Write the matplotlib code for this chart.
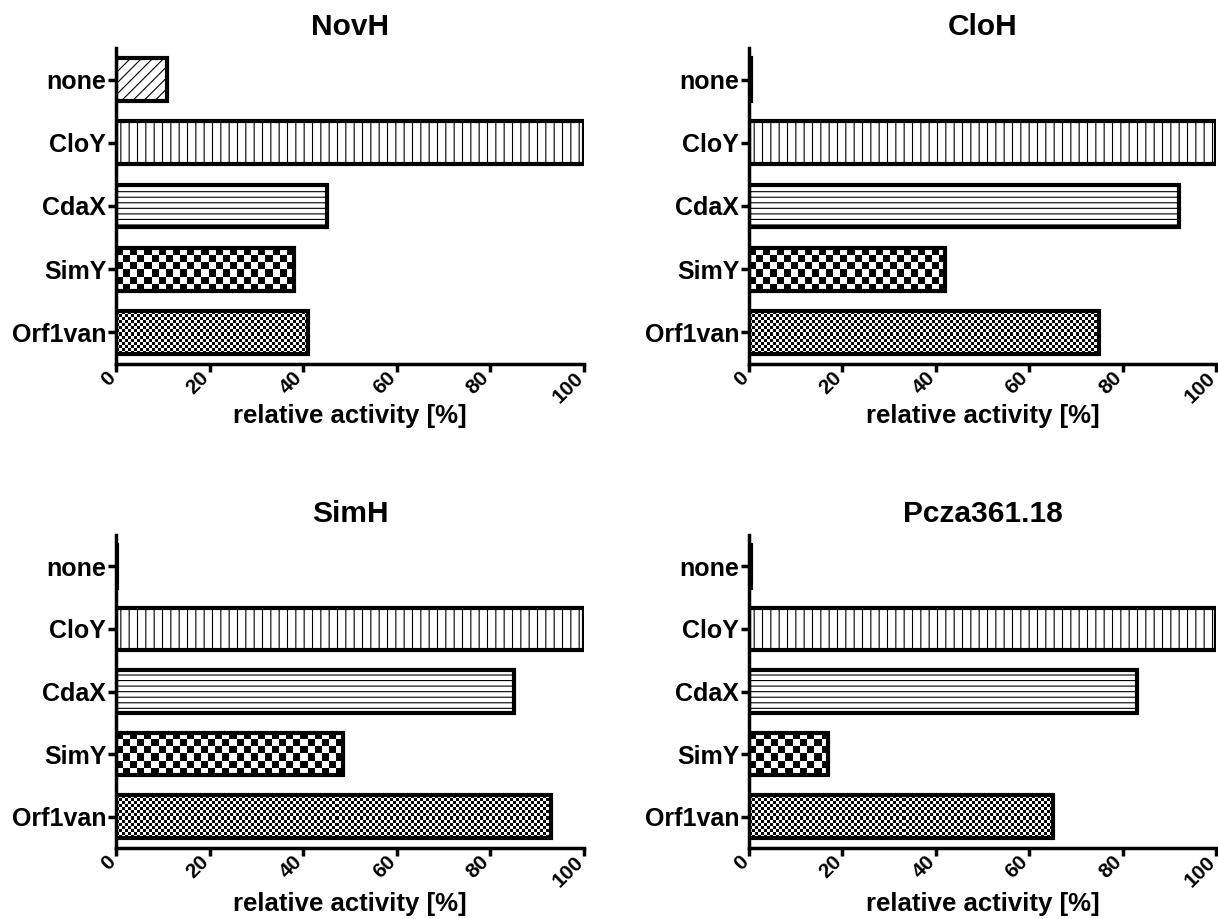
import matplotlib
matplotlib.use("Agg")
import matplotlib.pyplot as plt
import matplotlib.transforms as mtransforms
import numpy as np

plt.rcParams["font.family"] = ["Liberation Sans", "DejaVu Sans"]
plt.rcParams["font.weight"] = "bold"
plt.rcParams["hatch.linewidth"] = 0.8

# data
enzymes = ["NovH", "CloH", "SimH", "Pcza361.18"]
partners = ["none", "CloY", "CdaX", "SimY", "Orf1van"]
novh = [11, 100, 45, 38, 41]
cloh = [0.5, 100, 92, 42, 75]
simh = [0.3, 100, 85, 48.5, 93]
pcza = [0.5, 100, 83, 17, 65]
xticks = [0, 20, 40, 60, 80, 100]

# fill style per partner: hatch string or checker cell size in pixels
fills = {"none": "///", "CloY": "||", "CdaX": "---", "SimY": 7, "Orf1van": 3}

BAR_H = 0.68
W, H = 1218, 919


def checker(nr, nc):
    r = np.arange(nr)[:, None]
    c = np.arange(nc)[None, :]
    return ((r + c) % 2).astype(float)


def draw_panel(fig, ax, title, values, label_top):
    ypos = np.arange(len(partners))[::-1]
    ax.set_xlim(0, 100)
    ax.set_ylim(-0.5, len(partners) - 0.5)
    bb = ax.get_window_extent()
    px_x = bb.width / 100.0
    px_y = bb.height / len(partners)
    for name, val, y in zip(partners, values, ypos):
        style = fills[name]
        if isinstance(style, str):
            ax.barh(y, val, height=BAR_H, color="white", edgecolor="black",
                    linewidth=3, hatch=style, zorder=2)
        else:
            # checkerboard fill: image clipped to the bar outline
            bar = ax.barh(y, val, height=BAR_H, color="none", edgecolor="black",
                          linewidth=3, zorder=3)[0]
            nr = max(1, int(round(BAR_H * px_y / style)))
            nc = max(1, int(round(val * px_x / style)))
            im = ax.imshow(checker(nr, nc), cmap="gray", interpolation="nearest",
                           extent=(0, val, y - BAR_H / 2, y + BAR_H / 2),
                           aspect="auto", zorder=2)
            im.set_clip_path(bar)
    ax.set_aspect("auto")
    ax.set_xlim(0, 100)
    ax.set_ylim(-0.5, len(partners) - 0.5)
    ax.set_yticks(ypos)
    ax.set_yticklabels(partners, fontsize=18, fontweight="bold")
    ax.set_xticks(xticks)
    ax.set_xticklabels([str(t) for t in xticks], fontsize=15, fontweight="bold",
                       rotation=45, ha="right", va="center", rotation_mode="anchor")
    ax.tick_params(axis="both", width=2.5, length=6, direction="out")
    ax.tick_params(axis="x", pad=2)
    ax.tick_params(axis="y", pad=1)
    # nudge rotated labels left (after tick_params, which resets transforms)
    shift = mtransforms.ScaledTranslation(-4 / 100, 0, fig.dpi_scale_trans)
    for lab in ax.get_xticklabels():
        lab.set_transform(lab.get_transform() + shift)
    for s in ["top", "right"]:
        ax.spines[s].set_visible(False)
    for s in ["left", "bottom"]:
        ax.spines[s].set_linewidth(2.5)
    ax.set_title(title, fontsize=21.5, fontweight="bold", pad=9)
    ax.set_xlabel("relative activity [%]", fontsize=18.5, fontweight="bold", va="top")
    # label position given in figure pixels from the top
    ax.xaxis.set_label_coords(0.5, -(label_top - (H - bb.y0)) / bb.height)


fig = plt.figure(figsize=(W / 100, H / 100), dpi=100)

# axes boxes in pixels: left, top, right, bottom, xlabel top
boxes = [(116, 48, 584, 364, 404), (749, 48, 1216, 364, 404),
         (116, 535, 584, 848, 892), (749, 535, 1216, 848, 892)]
data = [novh, cloh, simh, pcza]

for (l, t, r, b, lt), title, vals in zip(boxes, enzymes, data):
    ax = fig.add_axes([l / W, 1 - b / H, (r - l) / W, (b - t) / H])
    draw_panel(fig, ax, title, vals, lt)

fig.savefig("out.png", dpi=100)
